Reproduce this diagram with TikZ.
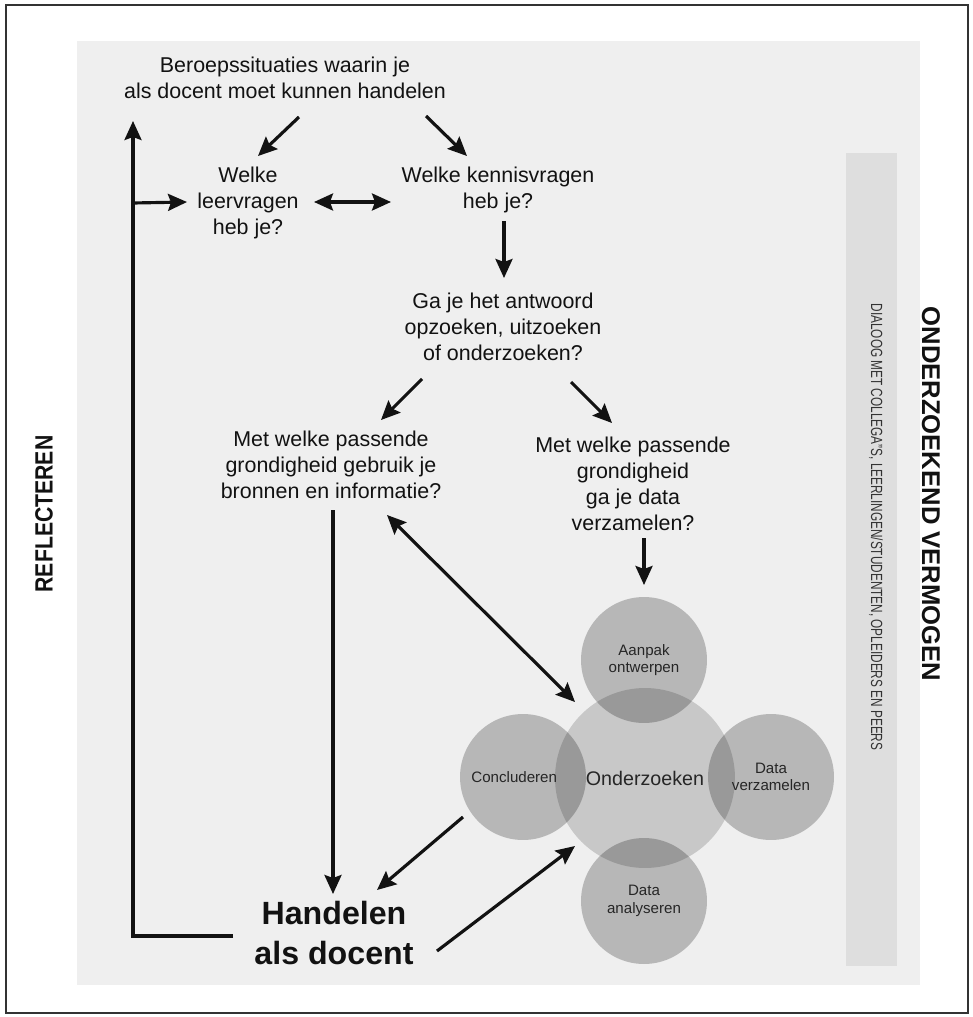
\documentclass[tikz,border=0pt]{standalone}
\usepackage{fontspec}
\usepackage{graphicx}
\setmainfont{Liberation Sans}
\usetikzlibrary{arrows.meta}
\definecolor{panelgray}{gray}{0.937}
\definecolor{bargray}{gray}{0.87}
\definecolor{inkgray}{gray}{0.07}

\begin{document}
\begin{tikzpicture}[x=0.02cm, y=-0.02cm,
  vraag/.style={align=center, font=\fontsize{12.2}{14.7}\selectfont, text=inkgray, inner sep=0pt},
  pijl/.style={line width=1.8pt, draw=inkgray, -{Stealth[length=3.8mm,width=3.4mm,inset=0.6mm]}},
  dubbelpijl/.style={pijl, {Stealth[length=3.8mm,width=3.4mm,inset=0.6mm]}-{Stealth[length=3.8mm,width=3.4mm,inset=0.6mm]}},
  bol/.style={circle, fill=black, fill opacity=0.23, text opacity=1, minimum size=2.52cm, inner sep=0pt,
    align=center, font=\fontsize{8.6}{10}\selectfont, text=black!85}]

  % frame and panels
  \useasboundingbox (0,0) rectangle (973,1017);
  \fill[white] (0,0) rectangle (973,1017);
  \draw[line width=1pt, black!80] (6,5) rectangle (968,1013);
  \fill[panelgray] (77,41) rectangle (920,985);
  \fill[bargray] (846,153) rectangle (897,966);

  % circles
  \node[bol, fill opacity=0.16, minimum size=3.6cm, font=\fontsize{11.2}{13}\selectfont] (onderzoeken) at (645,778) {Onderzoeken};
  \node[bol] (aanpak) at (644,660) {Aanpak\\ontwerpen};
  \node[bol] (concl) at (523,777) {Concluderen\hspace*{10pt}};
  \node[bol] (verz) at (771,777) {Data\\verzamelen};
  \node[bol] (analys) at (644,901) {Data\\analyseren};

  % questions
  \node[vraag] (beroeps) at (285,78) {Beroepssituaties waarin je\\als docent moet kunnen handelen};
  \node[vraag] (leer) at (248,203) {Welke\\leervragen\\heb je?};
  \node[vraag] (kennis) at (498,190) {Welke kennisvragen\\heb je?};
  \node[vraag] (gaje) at (503,327) {Ga je het antwoord\\opzoeken, uitzoeken\\of onderzoeken?};
  \node[vraag] (bronnen) at (331,465) {Met welke passende\\grondigheid gebruik je\\bronnen en informatie?};
  \node[vraag] (data) at (633,484) {Met welke passende\\grondigheid\\ga je data\\verzamelen?};
  \node[vraag, font=\fontsize{18.3}{22.5}\selectfont\bfseries] (handelen) at (334,933) {Handelen\\als docent};

  % side labels
  \node[rotate=90, font=\fontsize{14.2}{16}\selectfont\bfseries, text=inkgray] (reflecteren) at (44,514) {\scalebox{0.85}[1]{REFLECTEREN}};
  \node[rotate=-90, font=\fontsize{14.6}{16}\selectfont\bfseries, text=inkgray] (vermogen) at (931,494) {ONDERZOEKEND VERMOGEN};
  \node[rotate=-90, font=\fontsize{9.2}{11}\selectfont, text=black!80] (dialoog) at (876,527) {\scalebox{0.73}[1]{DIALOOG MET COLLEGA"S, LEERLINGEN/STUDENTEN, OPLEIDERS EN PEERS}};

  % arrows
  \draw[pijl] ([shift={(14,39)}]beroeps.center) -- ([shift={(10,-47)}]leer.center);
  \draw[pijl] ([shift={(141,38)}]beroeps.center) -- ([shift={(-31,-34)}]kennis.center);
  \draw[dubbelpijl] ([shift={(66,-1)}]leer.center) -- ([shift={(-107,12)}]kennis.center);
  \draw[pijl] ([shift={(6,31)}]kennis.center) -- ([shift={(1,-49)}]gaje.center);
  \draw[pijl] ([shift={(-81,52)}]gaje.center) -- ([shift={(50,-45)}]bronnen.center);
  \draw[pijl] ([shift={(68,55)}]gaje.center) -- ([shift={(-21,-61)}]data.center);
  \draw[pijl] ([shift={(2,45)}]bronnen.center) -- ([shift={(-1,-39)}]handelen.center);
  \draw[dubbelpijl] ([shift={(56,50)}]bronnen.center) -- ([shift={(-70,-76)}]onderzoeken.center);
  \draw[pijl] ([shift={(11,54)}]data.center) -- ([shift={(0,-75)}]aanpak.center);
  \draw[pijl] ([shift={(-60,40)}]concl.center) -- ([shift={(43,-43)}]handelen.center);
  \draw[pijl] ([shift={(103,18)}]handelen.center) -- ([shift={(-70,68)}]onderzoeken.center);

  % reflection loop
  \coordinate (lusonder) at (133,936);
  \coordinate (lusboven) at (133,121);
  \draw[pijl] ([shift={(-101,3)}]handelen.center) -- (lusonder) -- (lusboven);
  \draw[pijl] (lusonder |- leer) -- ([shift={(-61,-1)}]leer.center);
\end{tikzpicture}
\end{document}
